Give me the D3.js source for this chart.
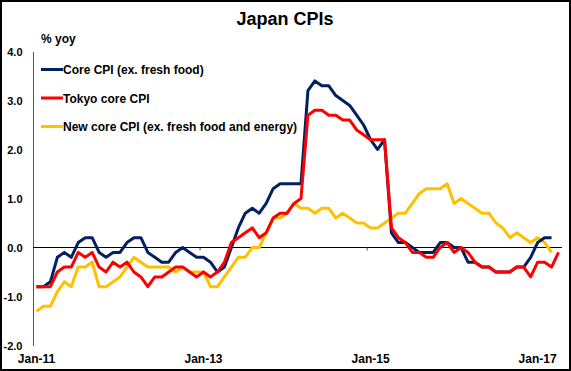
<!DOCTYPE html>
<html lang="en">
<head>
  <meta charset="UTF-8">
  <title>Japan CPIs</title>
  <script src="https://d3js.org/d3.v7.min.js"></script>
  <style>
    body { margin: 0; background: #fff; }
    svg { display: block; font-family: Arial, "Liberation Sans", sans-serif; }
  </style>
</head>
<body>
  <div id="chart"></div>

  <script>
    // monthly data, Jan-11 .. Apr-17 (% yoy)
    const coreCpi = [
      -0.8, -0.8, -0.7, -0.2, -0.1, -0.2, 0.1, 0.2, 0.2, -0.1, -0.2, -0.1,
      -0.1, 0.1, 0.2, 0.2, -0.1, -0.2, -0.3, -0.3, -0.1, 0.0, -0.1, -0.2,
      -0.2, -0.3, -0.5, -0.4, 0.0, 0.4, 0.7, 0.8, 0.7, 0.9, 1.2, 1.3,
      1.3, 1.3, 1.3, 3.2, 3.4, 3.3, 3.3, 3.1, 3.0, 2.9, 2.7, 2.5,
      2.2, 2.0, 2.2, 0.3, 0.1, 0.1, 0.0, -0.1, -0.1, -0.1, 0.1, 0.1,
      0.0, 0.0, -0.3, -0.3, -0.4, -0.4, -0.5, -0.5, -0.5, -0.4, -0.4, -0.2,
      0.1, 0.2, 0.2
    ];
    const tokyoCoreCpi = [
      -0.8, -0.8, -0.8, -0.5, -0.4, -0.4, -0.1, -0.2, -0.1, -0.4, -0.5, -0.3,
      -0.4, -0.3, -0.5, -0.6, -0.8, -0.6, -0.6, -0.5, -0.4, -0.4, -0.5, -0.6,
      -0.5, -0.6, -0.5, -0.3, 0.1, 0.2, 0.3, 0.4, 0.2, 0.3, 0.6, 0.7,
      0.7, 0.9, 1.0, 2.7, 2.8, 2.8, 2.7, 2.7, 2.6, 2.6, 2.4, 2.3,
      2.2, 2.2, 2.2, 0.4, 0.2, 0.1, -0.1, -0.1, -0.2, -0.2, 0.0, 0.1,
      -0.1, 0.0, -0.1, -0.3, -0.4, -0.4, -0.5, -0.5, -0.5, -0.4, -0.4, -0.6,
      -0.3, -0.3, -0.4, -0.1
    ];
    const newCoreCpi = [
      -1.3, -1.2, -1.2, -0.9, -0.7, -0.8, -0.4, -0.4, -0.3, -0.8, -0.8, -0.7,
      -0.6, -0.4, -0.2, -0.3, -0.4, -0.4, -0.4, -0.4, -0.5, -0.4, -0.5, -0.5,
      -0.5, -0.8, -0.8, -0.6, -0.4, -0.2, -0.2, 0.0, 0.0, 0.3, 0.6, 0.6,
      0.7, 0.9, 0.8, 0.8, 0.7, 0.8, 0.8, 0.6, 0.7, 0.6, 0.5, 0.5,
      0.4, 0.4, 0.5, 0.6, 0.7, 0.7, 0.9, 1.1, 1.2, 1.2, 1.2, 1.3,
      0.9, 1.0, 0.9, 0.8, 0.7, 0.7, 0.5, 0.4, 0.2, 0.3, 0.2, 0.1,
      0.2, 0.1, -0.1
    ];

    const seriesNames = ["Core CPI (ex. fresh food)", "Tokyo core CPI", "New core CPI (ex. fresh food and energy)"];
    const seriesColors = ["#002060", "#ff0000", "#ffc000"];
    const xTickLabels = ["Jan-11", "Jan-13", "Jan-15", "Jan-17"];
    const yTicks = [-2, -1, 0, 1, 2, 3, 4];

    // month categories (76 of them)
    const monthNames = ["Jan", "Feb", "Mar", "Apr", "May", "Jun", "Jul", "Aug", "Sep", "Oct", "Nov", "Dec"];
    const categories = d3.range(76).map(i => monthNames[i % 12] + "-" + (11 + Math.floor(i / 12)));

    const width = 571, height = 371;
    const svg = d3.select("#chart").append("svg")
      .attr("width", width)
      .attr("height", height);

    // outer frame
    svg.append("rect")
      .attr("x", 1).attr("y", 1)
      .attr("width", width - 2).attr("height", height - 2)
      .attr("fill", "#fff")
      .attr("stroke", "#000")
      .attr("stroke-width", 2);

    const x = d3.scaleBand().domain(categories).range([33, 562]).padding(0);
    const y = d3.scaleLinear().domain([-2, 4]).range([345.5, 51.5]);
    const cx = i => x(categories[i]) + x.bandwidth() / 2;

    // title
    svg.append("text")
      .attr("x", 285).attr("y", 25)
      .attr("text-anchor", "middle")
      .attr("font-size", 18).attr("font-weight", "bold")
      .text("Japan CPIs");

    svg.append("text")
      .attr("x", 41).attr("y", 43)
      .attr("font-size", 12).attr("font-weight", "bold")
      .text("% yoy");

    // y axis
    const yAxis = svg.append("g")
      .attr("transform", "translate(33,0)")
      .call(d3.axisLeft(y).tickValues(yTicks).tickFormat(d => d.toFixed(1)).tickSize(0).tickSizeOuter(0).tickPadding(10.5));
    yAxis.select(".domain").attr("stroke", "#555");
    yAxis.selectAll("text")
      .attr("font-size", 11).attr("font-weight", "bold").attr("fill", "#000")
      .attr("font-family", null);

    // x labels at the bottom (low position)
    const xAxis = svg.append("g")
      .attr("transform", "translate(0,345.5)")
      .call(d3.axisBottom(x).tickValues(xTickLabels).tickSize(0).tickPadding(8.5));
    xAxis.select(".domain").remove();
    xAxis.selectAll("text")
      .attr("font-size", 12).attr("font-weight", "bold").attr("fill", "#000")
      .attr("font-family", null);

    // zero line with tick marks at category boundaries
    svg.append("line")
      .attr("x1", 33).attr("x2", 562)
      .attr("y1", y(0)).attr("y2", y(0))
      .attr("stroke", "#000").attr("stroke-width", 1);
    svg.selectAll(".xtick")
      .data(xTickLabels.slice(1))
      .enter().append("line")
      .attr("class", "xtick")
      .attr("x1", d => x(d)).attr("x2", d => x(d))
      .attr("y1", y(0)).attr("y2", y(0) + 3)
      .attr("stroke", "#555");

    // lines
    const allSeries = [coreCpi, tokyoCoreCpi, newCoreCpi];
    const line = d3.line()
      .x((d, i) => cx(i))
      .y(d => y(d));

    // draw yellow first, then blue, red on top
    [2, 0, 1].forEach(k => {
      svg.append("path")
        .datum(allSeries[k])
        .attr("fill", "none")
        .attr("stroke", seriesColors[k])
        .attr("stroke-width", 3)
        .attr("stroke-linejoin", "round")
        .attr("d", line);
    });

    // legend
    const legend = svg.append("g");
    seriesNames.forEach((name, k) => {
      const ly = 69.5 + k * 28.5;
      legend.append("line")
        .attr("x1", 41).attr("x2", 63)
        .attr("y1", ly).attr("y2", ly)
        .attr("stroke", seriesColors[k])
        .attr("stroke-width", 3);
      legend.append("text")
        .attr("x", 63).attr("y", ly + 4.5)
        .attr("font-size", 12).attr("font-weight", "bold")
        .text(name);
    });
  </script>
</body>
</html>
